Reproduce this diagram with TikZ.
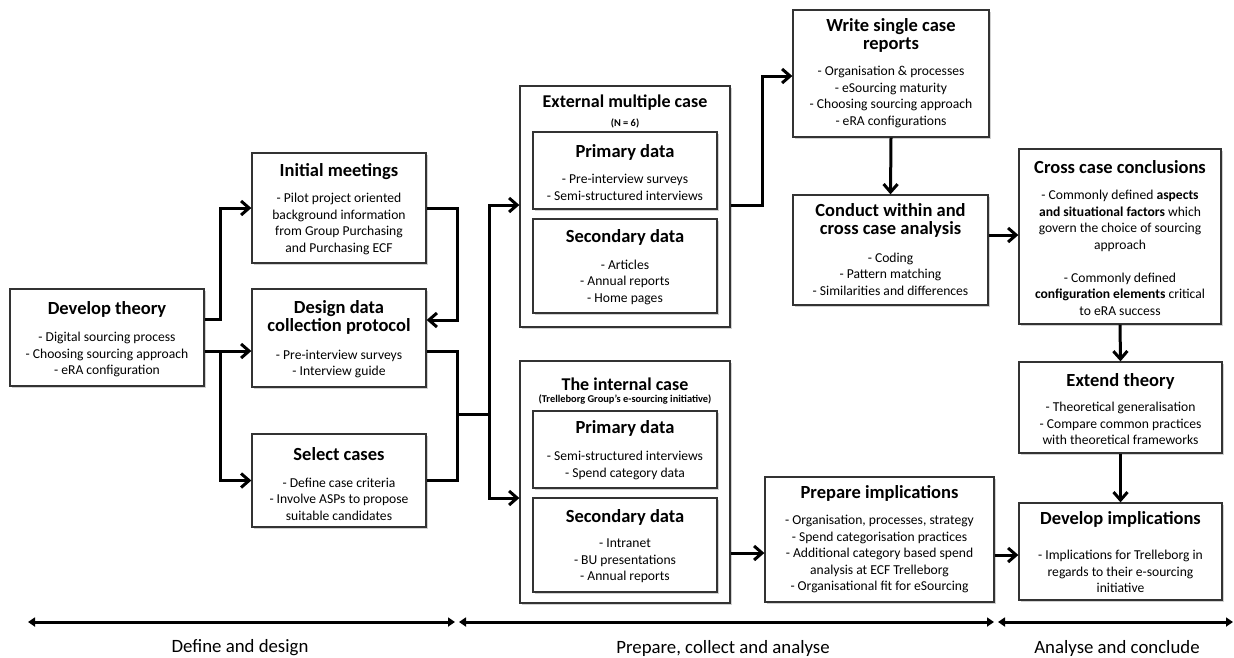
\documentclass[tikz,border=0pt]{standalone}
\usepackage{fontspec}
\setmainfont{Carlito}
\usetikzlibrary{arrows.meta,shadows}

\tikzset{
  box/.style={draw=black!80, line width=1.3pt, fill=white, inner sep=0pt,
    drop shadow={shadow xshift=1.5pt, shadow yshift=-1.5pt, fill=black, opacity=0.18}},
  ttl/.style={font=\fontsize{18.5}{18}\selectfont\bfseries, align=center, inner sep=0pt},
  bdy/.style={font=\fontsize{13.6}{16.5}\selectfont, align=center, inner sep=0pt},
  sub/.style={font=\fontsize{10.4}{11}\selectfont\bfseries, align=center, inner sep=0pt},
  phase/.style={font=\fontsize{18.8}{20}\selectfont, inner sep=0pt},
  wire/.style={line width=3pt, black},
  conn/.style={wire, -{Straight Barb[length=8pt,width=14pt]}},
  span/.style={line width=3pt, {Triangle[length=7pt,width=9pt]}-{Triangle[length=7pt,width=9pt]}}
}

\begin{document}
\begin{tikzpicture}[x=1pt,y=-1pt]
\useasboundingbox (0,0) rectangle (1234,657);

% ---------- Define and design ----------
\node[box, minimum width=194pt, minimum height=97pt] (dev) at (107,337.5) {};
\node[ttl] (devT) at (107,309) {Develop theory};
\node[bdy] (devB) at (107,354.5) {- Digital sourcing process\\- Choosing sourcing approach\\- eRA configuration};

\node[box, minimum width=174pt, minimum height=110pt] (init) at (339,208) {};
\node[ttl] (initT) at (339,172) {Initial meetings};
\node[bdy] (initB) at (339,224) {- Pilot project oriented\\background information\\from Group Purchasing\\and Purchasing ECF};

\node[box, minimum width=174pt, minimum height=98pt] (design) at (339,338) {};
\node[ttl] (designT) at (339,317.5) {Design data\\collection protocol};
\node[bdy] (designB) at (339,364) {- Pre-interview surveys\\- Interview guide};

\node[box, minimum width=174pt, minimum height=93pt] (select) at (339,480.5) {};
\node[ttl] (selectT) at (339,454) {Select cases};
\node[bdy] (selectB) at (339,499) {- Define case criteria\\- Involve ASPs to propose\\suitable candidates};

% ---------- Prepare, collect and analyse ----------
\node[box, minimum width=210pt, minimum height=241pt] (ext) at (625,206.5) {};
\node[ttl, font=\fontsize{18}{18}\selectfont\bfseries] (extT) at (625,103) {External multiple case};
\node[sub] (extS) at (625,123) {(N = 6)};
\node[box, minimum width=184pt, minimum height=77pt] (extP) at (625,170.5) {};
\node[ttl] (extPT) at (625,152) {Primary data};
\node[bdy] (extPB) at (625,187.5) {- Pre-interview surveys\\- Semi-structured interviews};
\node[box, minimum width=184pt, minimum height=94pt] (extD) at (625,266) {};
\node[ttl] (extDT) at (625,237) {Secondary data};
\node[bdy] (extDB) at (625,282) {- Articles\\- Annual reports\\- Home pages};

\node[box, minimum width=210pt, minimum height=242pt] (int) at (625,482) {};
\node[ttl, font=\fontsize{18}{18}\selectfont\bfseries] (intT) at (625,384) {The internal case};
\node[sub] (intS) at (625,399.5) {(Trelleborg Group's e-sourcing initiative)};
\node[box, minimum width=184pt, minimum height=77pt] (intP) at (625,449.5) {};
\node[ttl] (intPT) at (625,428) {Primary data};
\node[bdy] (intPB) at (625,465.5) {- Semi-structured interviews\\- Spend category data};
\node[box, minimum width=184pt, minimum height=94pt] (intD) at (625,545) {};
\node[ttl] (intDT) at (625,517) {Secondary data};
\node[bdy] (intDB) at (625,561) {- Intranet\\- BU presentations\\- Annual reports};

\node[box, minimum width=196pt, minimum height=127pt] (write) at (891,73.5) {};
\node[ttl] (writeT) at (891,35) {Write single case\\reports};
\node[bdy] (writeB) at (891,97) {- Organisation \& processes\\- eSourcing maturity\\- Choosing sourcing approach\\- eRA configurations};

\node[box, minimum width=195pt, minimum height=110pt] (conduct) at (890.5,250) {};
\node[ttl] (conductT) at (890.5,220.5) {Conduct within and\\cross case analysis};
\node[bdy] (conductB) at (890.5,274) {- Coding\\- Pattern matching\\- Similarities and differences};

\node[box, minimum width=229pt, minimum height=125pt] (prep) at (879.5,539.5) {};
\node[ttl] (prepT) at (879.5,493) {Prepare implications};
\node[bdy] (prepB) at (879.5,554) {- Organisation, processes, strategy\\- Spend categorisation practices\\- Additional category based spend\\analysis at ECF Trelleborg\\- Organisational fit for eSourcing};

% ---------- Analyse and conclude ----------
\node[box, minimum width=202pt, minimum height=175pt] (cross) at (1120,236.5) {};
\node[ttl] (crossT) at (1120,167) {Cross case conclusions};
\node[bdy] (crossB) at (1120,253) {- Commonly defined \textbf{aspects}\\\textbf{and situational factors} which\\govern the choice of sourcing\\approach\\[16.5pt]- Commonly defined\\\textbf{configuration elements} critical\\to eRA success};

\node[box, minimum width=203pt, minimum height=91pt] (extend) at (1120.5,407.5) {};
\node[ttl] (extendT) at (1120.5,381) {Extend theory};
\node[bdy] (extendB) at (1120.5,423.5) {- Theoretical generalisation\\- Compare common practices\\with theoretical frameworks};

\node[box, minimum width=203pt, minimum height=97pt] (devimp) at (1120.5,551.5) {};
\node[ttl] (devimpT) at (1120.5,519) {Develop implications};
\node[bdy] (devimpB) at (1120.5,571.5) {- Implications for Trelleborg in\\regards to their e-sourcing\\initiative};

% ---------- connector junction columns ----------
\coordinate (j1) at (220,0);
\coordinate (j2) at (457,0);
\coordinate (j3) at (489,0);
\coordinate (j4) at (762,0);

% ---------- connectors ----------
\draw[conn] (dev.east |- 0,319) -| (j1 |- init.west) -- (init.west);
\draw[conn] (dev.east |- 0,351) -- (design.west |- 0,351);
\draw[conn] (j1 |- 0,351) |- (select.west);
\draw[conn] (init.east) -| (j2 |- 0,320) -- (design.east |- 0,320);
\draw[wire] (design.east |- 0,351) -| (j2 |- select.east) -- (select.east);
\draw[wire] (j2 |- 0,414) -- (j3 |- 0,414);
\draw[conn] (j3 |- 0,414) |- (ext.west |- 0,205);
\draw[conn] (j3 |- 0,414) |- (int.west |- 0,498);
\draw[conn] (ext.east |- 0,205) -| (j4 |- 0,76) -- (write.west |- 0,76);
\draw[conn] (write.south) -- (conduct.north);
\draw[conn] (conduct.east |- 0,235) -- (cross.west |- 0,235);
\draw[conn] (int.east |- 0,553) -- (prep.west |- 0,553);
\draw[conn] (prep.east |- 0,555) -- (devimp.west |- 0,555);
\draw[conn] (cross.south) -- (extend.north);
\draw[conn] (extend.south) -- (devimp.north);

% ---------- phase bar ----------
\coordinate (p0) at (28,622);
\coordinate (p1) at (455,622);
\coordinate (p2) at (459,622);
\coordinate (p3) at (994,622);
\coordinate (p4) at (998,622);
\coordinate (p5) at (1233,622);
\draw[span] (p0) -- (p1);
\draw[span] (p2) -- (p3);
\draw[span] (p4) -- (p5);
\node[phase] (ph1) at (240,648) {Define and design};
\node[phase] (ph2) at (723,648) {Prepare, collect and analyse};
\node[phase] (ph3) at (1117,648) {Analyse and conclude};
\end{tikzpicture}
\end{document}
